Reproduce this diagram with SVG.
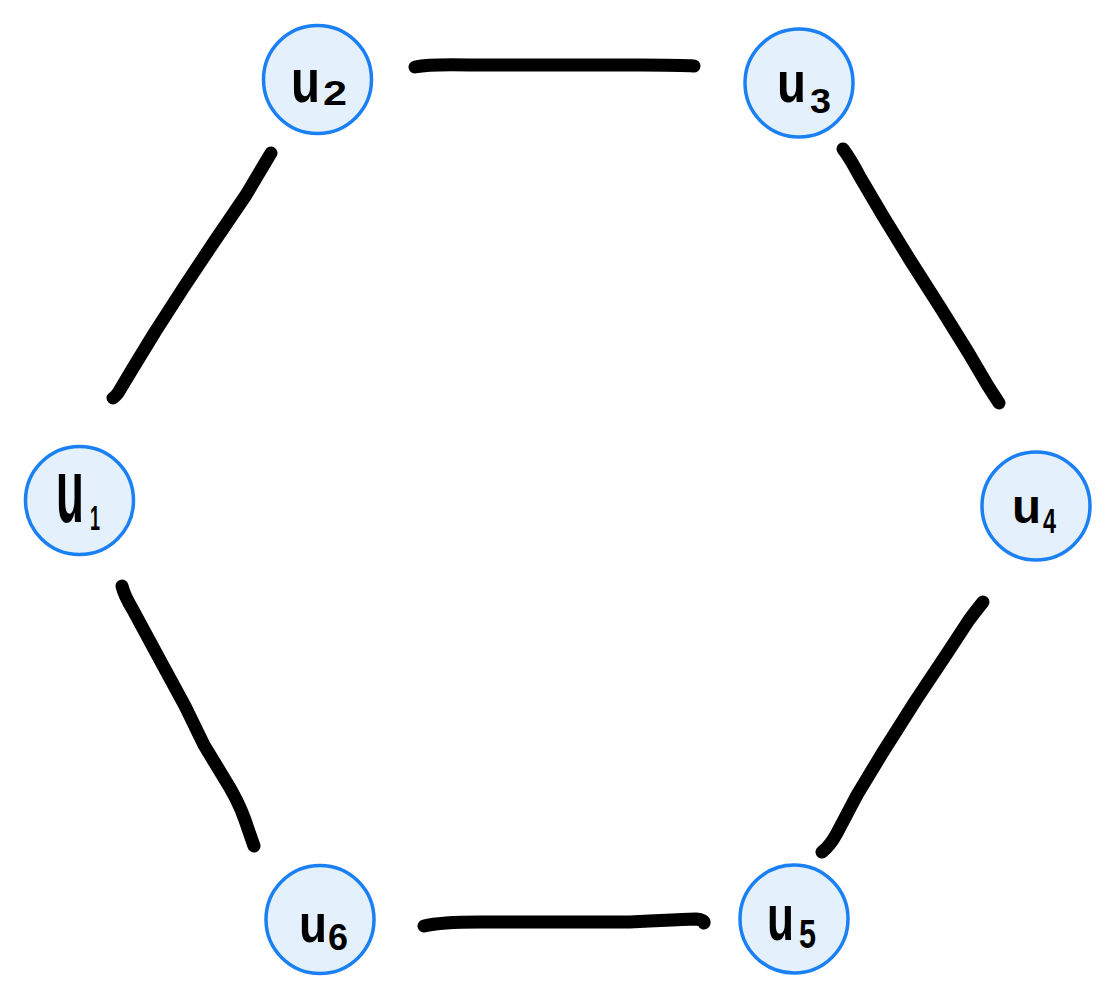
<svg xmlns="http://www.w3.org/2000/svg" width="1115" height="1000" viewBox="0 0 1115 1000">
<style>
.node circle{fill:#e5f0fd;stroke:#1a80f4;stroke-width:3.5}
.lbl{font-family:"Liberation Sans","DejaVu Sans",sans-serif;font-weight:bold;fill:#000}
.edge{fill:none;stroke:#000;stroke-width:13;stroke-linecap:round;stroke-linejoin:round}
</style>
<rect width="1115" height="1000" fill="#fff"/>
<g id="connectors">
<path class="edge" d="M415,67 Q430,64 470,65 L640,65 Q680,65 694,66"/>
<path class="edge" d="M271,153 L246,195 L214,242 L184,287 L155,332 L133,368 L118,393 Q114,398 113,398"/>
<path class="edge" d="M843,149 Q850,158 860,177 L883,216 L910,260 L940,307 L968,352 L988,386 L999,403"/>
<path class="edge" d="M122,586 Q124,595 133,610 L160,660 L185,706 L204,745 L224,778 Q238,800 245,820 L254,846"/>
<path class="edge" d="M983,602 Q978,608 969,620 L946,655 L916,700 L883,752 L857,795 L837,833 Q830,846 822,852"/>
<path class="edge" d="M424,926 Q440,922 480,922 L630,922 Q670,920 696,919 Q705,920 704,923"/>
</g>
<g id="u2" class="node"><circle cx="317.5" cy="79.5" r="54"/><text class="lbl"><tspan x="291" y="102" font-size="62" textLength="29" lengthAdjust="spacingAndGlyphs">u</tspan><tspan x="323" y="105" font-size="35" textLength="24" lengthAdjust="spacingAndGlyphs">2</tspan></text></g>
<g id="u3" class="node"><circle cx="799" cy="83" r="54"/><text class="lbl"><tspan x="777" y="102" font-size="58" textLength="29" lengthAdjust="spacingAndGlyphs">u</tspan><tspan x="810" y="113" font-size="35" textLength="21" lengthAdjust="spacingAndGlyphs">3</tspan></text></g>
<g id="u1" class="node"><circle cx="79.5" cy="500.5" r="54"/><text class="lbl"><tspan x="56" y="522" font-size="90" textLength="28" lengthAdjust="spacingAndGlyphs">u</tspan><tspan x="90" y="530" font-size="35" textLength="10" lengthAdjust="spacingAndGlyphs">1</tspan></text></g>
<g id="u4" class="node"><circle cx="1036" cy="506" r="54"/><text class="lbl"><tspan x="1012" y="523" font-size="48" textLength="29" lengthAdjust="spacingAndGlyphs">u</tspan><tspan x="1043" y="533" font-size="35" textLength="13" lengthAdjust="spacingAndGlyphs">4</tspan></text></g>
<g id="u6" class="node"><circle cx="320" cy="919.5" r="54"/><text class="lbl"><tspan x="299" y="942" font-size="54" textLength="28" lengthAdjust="spacingAndGlyphs">u</tspan><tspan x="328" y="950" font-size="36" textLength="20" lengthAdjust="spacingAndGlyphs">6</tspan></text></g>
<g id="u5" class="node"><circle cx="794" cy="919" r="54"/><text class="lbl"><tspan x="767" y="940" font-size="64" textLength="27" lengthAdjust="spacingAndGlyphs">u</tspan><tspan x="799" y="948" font-size="40" textLength="17" lengthAdjust="spacingAndGlyphs">5</tspan></text></g>
</svg>
